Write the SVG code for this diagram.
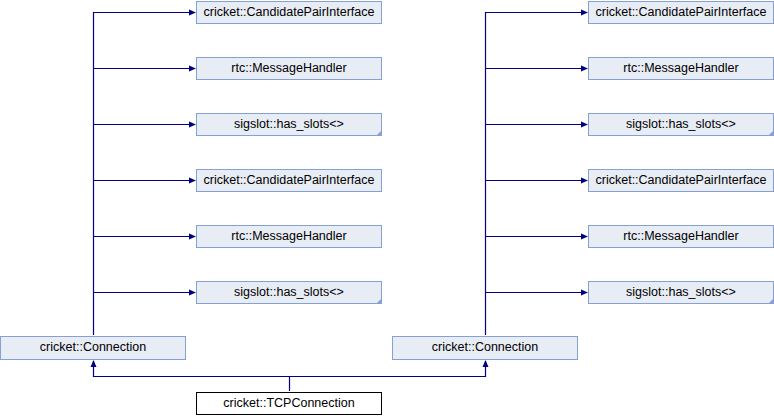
<svg xmlns="http://www.w3.org/2000/svg" width="774" height="416" viewBox="0 0 774 416">
<style>
.n{fill:#e8ecf5;stroke:#84a0d4;stroke-width:1}
.w{fill:#ffffff;stroke:#000000;stroke-width:1}
.c{fill:#84a0d4;stroke:none}
text{font-family:"Liberation Sans",Arial,sans-serif;font-size:12.5px;fill:#000000;text-anchor:middle}
.e{fill:none;stroke:#000080;stroke-width:1.2}
</style>
<defs>
<marker id="a" markerWidth="7" markerHeight="7" refX="6" refY="3.5" orient="auto" markerUnits="userSpaceOnUse">
<path d="M0,0.5 L7,3.5 L0,6.5 Z" fill="#000080"/>
</marker>
</defs>
<g id="connectors">
<path class="e" d="M93.5,335 V12.5 H195" marker-end="url(#a)"/>
<path class="e" d="M93.5,68.5 H195" marker-end="url(#a)"/>
<path class="e" d="M93.5,124.5 H195" marker-end="url(#a)"/>
<path class="e" d="M93.5,180.5 H195" marker-end="url(#a)"/>
<path class="e" d="M93.5,236.5 H195" marker-end="url(#a)"/>
<path class="e" d="M93.5,292.5 H195" marker-end="url(#a)"/>
<path class="e" d="M485.5,335 V12.5 H587" marker-end="url(#a)"/>
<path class="e" d="M485.5,68.5 H587" marker-end="url(#a)"/>
<path class="e" d="M485.5,124.5 H587" marker-end="url(#a)"/>
<path class="e" d="M485.5,180.5 H587" marker-end="url(#a)"/>
<path class="e" d="M485.5,236.5 H587" marker-end="url(#a)"/>
<path class="e" d="M485.5,292.5 H587" marker-end="url(#a)"/>
<path class="e" d="M289.5,391 V376.5 H93.5 V361" marker-end="url(#a)"/>
<path class="e" d="M289.5,376.5 H485.5 V361" marker-end="url(#a)"/>
</g>
<g id="l1"><rect class="n" x="196.5" y="1.5" width="185" height="22"/><text x="289" y="16">cricket::CandidatePairInterface</text></g>
<g id="l2"><rect class="n" x="196.5" y="57.5" width="185" height="22"/><text x="289" y="72">rtc::MessageHandler</text></g>
<g id="l3"><rect class="n" x="196.5" y="113.5" width="185" height="22"/><path class="c" d="M382,130 L382,136 L376,136 Z"/><text x="289" y="128">sigslot::has_slots&lt;&gt;</text></g>
<g id="l4"><rect class="n" x="196.5" y="169.5" width="185" height="22"/><text x="289" y="184">cricket::CandidatePairInterface</text></g>
<g id="l5"><rect class="n" x="196.5" y="225.5" width="185" height="22"/><text x="289" y="240">rtc::MessageHandler</text></g>
<g id="l6"><rect class="n" x="196.5" y="281.5" width="185" height="22"/><path class="c" d="M382,298 L382,304 L376,304 Z"/><text x="289" y="296">sigslot::has_slots&lt;&gt;</text></g>
<g id="r1"><rect class="n" x="588.5" y="1.5" width="185" height="22"/><text x="681" y="16">cricket::CandidatePairInterface</text></g>
<g id="r2"><rect class="n" x="588.5" y="57.5" width="185" height="22"/><text x="681" y="72">rtc::MessageHandler</text></g>
<g id="r3"><rect class="n" x="588.5" y="113.5" width="185" height="22"/><path class="c" d="M774,130 L774,136 L768,136 Z"/><text x="681" y="128">sigslot::has_slots&lt;&gt;</text></g>
<g id="r4"><rect class="n" x="588.5" y="169.5" width="185" height="22"/><text x="681" y="184">cricket::CandidatePairInterface</text></g>
<g id="r5"><rect class="n" x="588.5" y="225.5" width="185" height="22"/><text x="681" y="240">rtc::MessageHandler</text></g>
<g id="r6"><rect class="n" x="588.5" y="281.5" width="185" height="22"/><path class="c" d="M774,298 L774,304 L768,304 Z"/><text x="681" y="296">sigslot::has_slots&lt;&gt;</text></g>
<g id="connL"><rect class="n" x="0.5" y="336.5" width="185" height="23"/><text x="93" y="351">cricket::Connection</text></g>
<g id="connR"><rect class="n" x="392.5" y="336.5" width="185" height="23"/><text x="485" y="351">cricket::Connection</text></g>
<g id="tcp"><rect class="w" x="196.5" y="392.5" width="185" height="22"/><text x="289" y="407">cricket::TCPConnection</text></g>
</svg>
